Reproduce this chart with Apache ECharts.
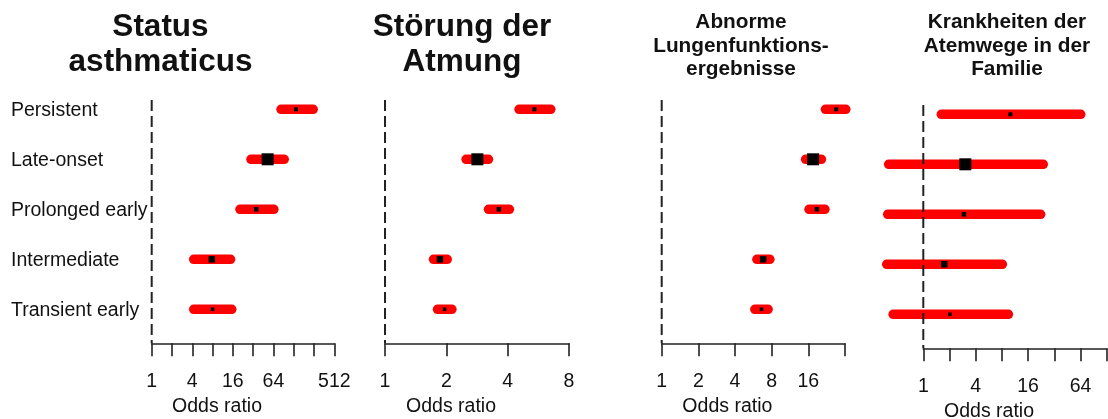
<!DOCTYPE html>
<html>
<head>
<meta charset="utf-8">
<script src="https://cdn.jsdelivr.net/npm/echarts@6/dist/echarts.min.js"></script>
<style>
  html, body { margin: 0; padding: 0; background: #ffffff; }
  #chart { width: 1108px; height: 419px; }
</style>
</head>
<body>
<div id="chart"></div>
<script>
// Outcome groups, top to bottom
const categories = ['Persistent', 'Late-onset', 'Prolonged early', 'Intermediate', 'Transient early'];

// Status asthmaticus: odds ratio with 95% CI
const statusEst  = [138, 52.5, 35.5, 7.8, 8.0];
const statusLow  = [83, 29.7, 20.4, 4.2, 4.2];
const statusHigh = [249, 92.5, 65, 14.8, 15.4];
const statusTicks = [1, 4, 16, 64, 512];

// Störung der Atmung
const breathEst  = [5.41, 2.84, 3.62, 1.86, 1.96];
const breathLow  = [4.55, 2.50, 3.22, 1.73, 1.81];
const breathHigh = [6.51, 3.22, 4.08, 2.02, 2.13];
const breathTicks = [1, 2, 4, 8];

// Abnorme Lungenfunktionsergebnisse
const lungEst  = [27.1, 17.5, 18.8, 6.81, 6.6];
const lungLow  = [22.1, 15.2, 16.2, 6.05, 5.82];
const lungHigh = [32.5, 20.5, 21.9, 7.73, 7.48];
const lungTicks = [1, 2, 4, 8, 16];

// Krankheiten der Atemwege in der Familie
const familyEst  = [10.0, 3.04, 2.93, 1.74, 2.02];
const familyLow  = [1.61, 0.40, 0.39, 0.38, 0.45];
const familyHigh = [64.4, 23.9, 22.3, 8.1, 9.5];
const familyTicks = [1, 4, 16, 64];

// Box size of the point estimate per group (px)
const boxSizes = [4, 12, 4.5, 6.5, 3.5];

const FONT = '"Liberation Sans", Arial, Helvetica, sans-serif';
const TEXT = '#111111';
const AXIS = '#222222';
const RED = '#ff0000';

// y positions: rows 5..1, axis range chosen so the rows sit 50px apart
const Y_MIN = 0.32, Y_MAX = 5.186;

const panels = [
  { title: 'Status\nasthmaticus', big: true, cx: 160.5, left: 151.7, width: 182.6, top: 100,
    maxPow: 9, ticks: statusTicks, est: statusEst, low: statusLow, high: statusHigh },
  { title: 'Störung der\nAtmung', big: true, cx: 462, left: 385, width: 184, top: 100,
    maxPow: 3, ticks: breathTicks, est: breathEst, low: breathLow, high: breathHigh },
  { title: 'Abnorme\nLungenfunktions-\nergebnisse', big: false, cx: 741, left: 661.7, width: 183.3, top: 100,
    maxPow: 5, ticks: lungTicks, est: lungEst, low: lungLow, high: lungHigh },
  { title: 'Krankheiten der\nAtemwege in der\nFamilie', big: false, cx: 1007, left: 923.3, width: 183.4, top: 105,
    maxPow: 7, ticks: familyTicks, est: familyEst, low: familyLow, high: familyHigh }
];

const PLOT_H = 243.3;
const log2 = Math.log2;

function renderForest(params, api) {
  const row = api.value(3);
  const a = api.coord([api.value(0), row]);
  const b = api.coord([api.value(1), row]);
  const c = api.coord([api.value(2), row]);
  const s = boxSizes[params.dataIndex];
  return {
    type: 'group',
    children: [
      { type: 'line', shape: { x1: a[0], y1: a[1], x2: b[0], y2: b[1] },
        style: { stroke: RED, lineWidth: 9.5, lineCap: 'round' } },
      { type: 'rect', shape: { x: c[0] - s / 2, y: c[1] - s / 2, width: s, height: s },
        style: { fill: '#000000' } }
    ]
  };
}

const grid = [], xAxis = [], yAxis = [], series = [], title = [];

panels.forEach((p, i) => {
  grid.push({ left: p.left, top: p.top, width: p.width, height: PLOT_H,
              containLabel: false, outerBoundsMode: 'none' });
  xAxis.push({
    gridIndex: i, type: 'value', min: 0, max: p.maxPow, interval: 1,
    name: 'Odds ratio', nameLocation: 'middle', nameGap: 50,
    nameTextStyle: { fontFamily: FONT, fontSize: 19.5, color: TEXT, padding: [0, 52, 0, 0] },
    axisLine: { show: true, lineStyle: { color: AXIS, width: 1.6 } },
    axisTick: { show: true, length: 13, lineStyle: { color: AXIS, width: 1.6 } },
    splitLine: { show: false },
    axisLabel: {
      fontFamily: FONT, fontSize: 19.5, color: TEXT, margin: 28,
      showMinLabel: true, showMaxLabel: true,
      formatter: v => {
        const val = Math.round(Math.pow(2, v));
        return p.ticks.includes(val) ? String(val) : '';
      }
    }
  });
  yAxis.push({ gridIndex: i, type: 'value', min: Y_MIN, max: Y_MAX, show: false });

  const data = categories.map((c, k) => [log2(p.low[k]), log2(p.high[k]), log2(p.est[k]), 5 - k]);
  series.push({
    type: 'custom', xAxisIndex: i, yAxisIndex: i, clip: false,
    encode: { x: [0, 1, 2], y: 3 },
    renderItem: renderForest, data: data, z: 2
  });
  // reference line at odds ratio 1
  series.push({
    type: 'line', xAxisIndex: i, yAxisIndex: i, showSymbol: false, silent: true, z: 3,
    lineStyle: { color: AXIS, width: 2, type: [11, 5] },
    data: [[0, Y_MAX], [0, Y_MIN]]
  });

  title.push({
    text: p.title, left: p.cx, top: p.big ? 10 : 11, textAlign: 'center', padding: 0,
    textStyle: {
      fontFamily: FONT, fontWeight: 'bold', color: TEXT,
      fontSize: p.big ? 31.5 : 20.8, lineHeight: p.big ? 35 : 23.5
    }
  });
});

// group labels on the left of the first panel
grid.push({ left: 151.7, top: 86, width: 10, height: 250, containLabel: false, outerBoundsMode: 'none' });
xAxis.push({ gridIndex: 4, type: 'value', show: false });
yAxis.push({
  gridIndex: 4, type: 'category', inverse: true, data: categories,
  axisLine: { show: false }, axisTick: { show: false }, splitLine: { show: false },
  axisLabel: { align: 'left', margin: 140.7, fontFamily: FONT, fontSize: 19.5, color: TEXT }
});

const chart = echarts.init(document.getElementById('chart'), null, { renderer: 'canvas' });
chart.setOption({
  backgroundColor: '#ffffff',
  animation: false,
  title: title,
  grid: grid,
  xAxis: xAxis,
  yAxis: yAxis,
  series: series
});
</script>
</body>
</html>
